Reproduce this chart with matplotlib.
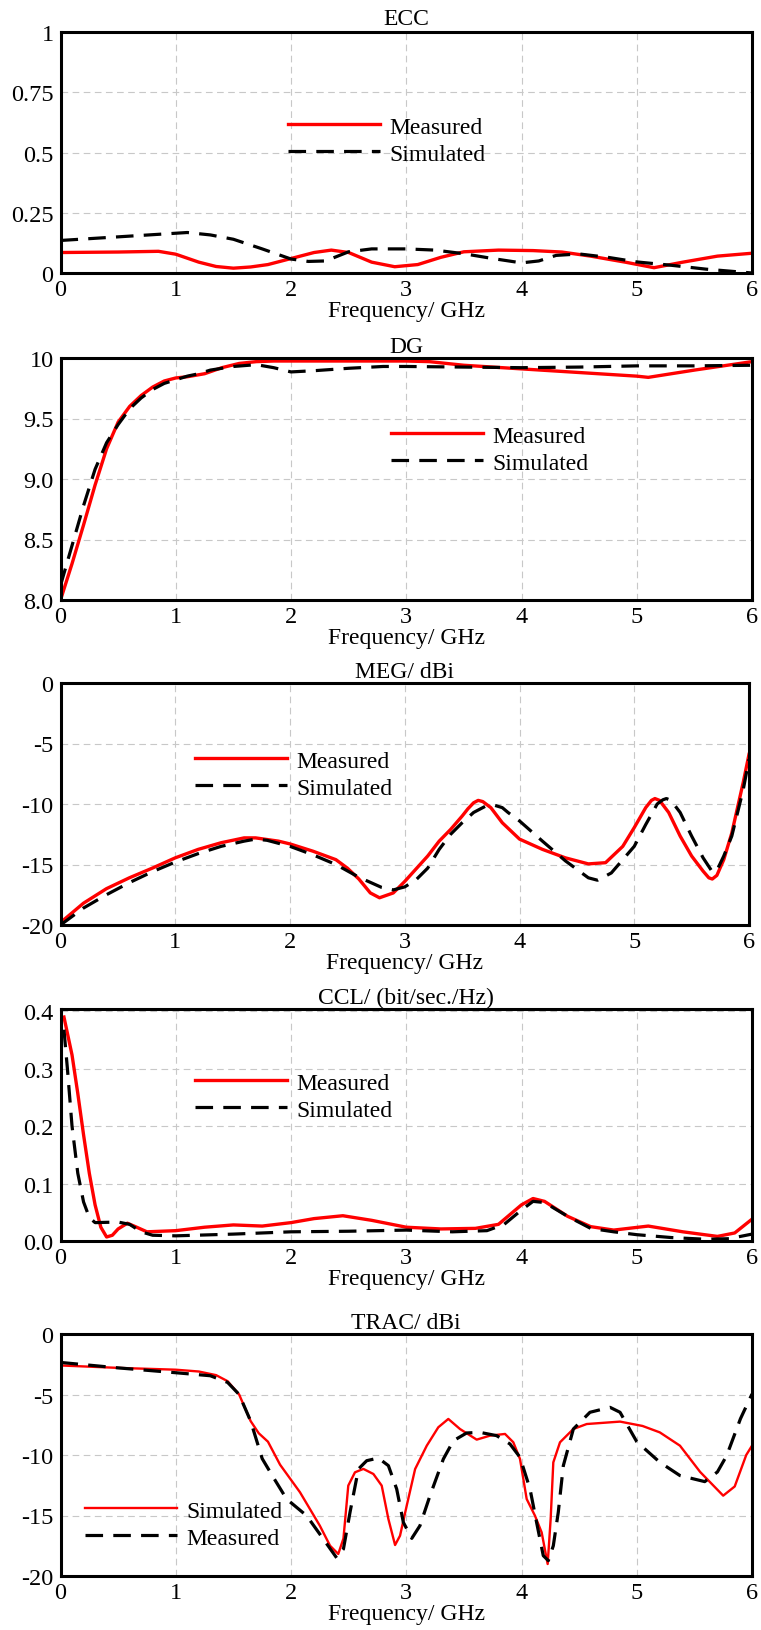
import matplotlib
matplotlib.use("Agg")
import matplotlib.pyplot as plt

plt.rcParams["font.family"] = ["Liberation Serif", "DejaVu Serif"]

W, H = 761, 1631
FS = 17.0
TICK_FS = 17.5

# ---------------- ECC ----------------
ecc_meas_f = [0, 0.5, 0.85, 1.0, 1.2, 1.35, 1.5, 1.65, 1.8, 2.0, 2.2, 2.35, 2.5, 2.7, 2.9, 3.1, 3.3, 3.5,
              3.8, 4.1, 4.35, 4.6, 4.9, 5.15, 5.4, 5.7, 6.0]
ecc_meas = [0.085, 0.087, 0.09, 0.078, 0.045, 0.027, 0.02, 0.025, 0.035, 0.06, 0.085, 0.095, 0.085, 0.045,
            0.026, 0.035, 0.065, 0.088, 0.095, 0.093, 0.087, 0.07, 0.045, 0.022, 0.045, 0.07, 0.082]
ecc_sim_f = [0, 0.5, 1.0, 1.1, 1.3, 1.5, 1.75, 2.0, 2.15, 2.3, 2.5, 2.7, 3.0, 3.25, 3.5, 3.75, 4.0, 4.15,
             4.3, 4.5, 4.75, 5.0, 5.3, 5.6, 5.8, 6.0]
ecc_sim = [0.135, 0.15, 0.165, 0.168, 0.158, 0.14, 0.1, 0.058, 0.048, 0.05, 0.088, 0.1, 0.1, 0.095, 0.08,
           0.06, 0.042, 0.05, 0.073, 0.079, 0.065, 0.046, 0.032, 0.016, 0.008, 0.0]

# ---------------- DG ----------------
dg_meas_f = [0, 0.1, 0.2, 0.3, 0.4, 0.5, 0.6, 0.7, 0.8, 0.9, 1.0, 1.1, 1.25, 1.4, 1.55, 1.7, 1.85, 2.0,
             2.5, 3.0, 3.2, 3.5, 4.0, 4.5, 5.0, 5.1, 5.5, 6.0]
dg_meas = [8.0, 8.3, 8.62, 8.95, 9.25, 9.47, 9.6, 9.69, 9.76, 9.81, 9.835, 9.845, 9.87, 9.92, 9.955, 9.97,
           9.975, 9.975, 9.975, 9.975, 9.97, 9.94, 9.91, 9.88, 9.85, 9.84, 9.9, 9.97]
dg_sim_f = [0, 0.1, 0.2, 0.3, 0.4, 0.5, 0.6, 0.7, 0.8, 0.9, 1.0, 1.1, 1.2, 1.3, 1.5, 1.7, 1.85, 2.0, 2.2,
            2.5, 2.8, 3.0, 3.5, 4.0, 4.5, 5.0, 5.5, 6.0]
dg_sim = [8.12, 8.45, 8.78, 9.08, 9.3, 9.45, 9.58, 9.67, 9.74, 9.79, 9.82, 9.85, 9.87, 9.9, 9.93, 9.945,
          9.92, 9.885, 9.895, 9.915, 9.93, 9.93, 9.925, 9.92, 9.925, 9.935, 9.935, 9.94]

# ---------------- MEG ----------------
meg_meas_f = [0, 0.1, 0.2, 0.4, 0.6, 0.8, 1.0, 1.2, 1.4, 1.6, 1.7, 1.9, 2.0, 2.2, 2.4, 2.5, 2.6, 2.7, 2.78,
              2.9, 3.0, 3.2, 3.3, 3.4, 3.5, 3.55, 3.6, 3.64, 3.68, 3.75, 3.85, 4.0, 4.2, 4.4, 4.6, 4.75,
              4.9, 5.0, 5.1, 5.15, 5.18, 5.22, 5.3, 5.4, 5.5, 5.6, 5.65, 5.68, 5.72, 5.78, 5.85, 5.95, 6.0]
meg_meas = [-19.8, -19.0, -18.2, -17.0, -16.1, -15.3, -14.45, -13.75, -13.2, -12.8, -12.8, -13.07, -13.3,
            -13.9, -14.6, -15.3, -16.2, -17.35, -17.75, -17.35, -16.4, -14.3, -13.07, -12.1, -11.0, -10.4,
            -9.9, -9.7, -9.8, -10.3, -11.55, -12.9, -13.75, -14.45, -14.95, -14.85, -13.5, -11.95, -10.3,
            -9.7, -9.55, -9.7, -10.7, -12.65, -14.3, -15.55, -16.1, -16.2, -15.9, -14.6, -12.4, -8.2, -5.9]
meg_sim_f = [0, 0.1, 0.2, 0.4, 0.6, 0.8, 1.0, 1.2, 1.4, 1.6, 1.7, 1.8, 2.0, 2.2, 2.4, 2.6, 2.8, 2.9, 3.0,
             3.1, 3.2, 3.3, 3.4, 3.5, 3.6, 3.7, 3.78, 3.85, 3.9, 4.0, 4.2, 4.4, 4.6, 4.68, 4.8, 5.0, 5.1,
             5.2, 5.25, 5.28, 5.32, 5.4, 5.5, 5.6, 5.68, 5.72, 5.78, 5.85, 5.95, 6.0]
meg_sim = [-20.0, -19.3, -18.6, -17.5, -16.5, -15.6, -14.8, -14.1, -13.5, -13.07, -12.9, -13.0, -13.5,
           -14.2, -15.0, -16.05, -16.9, -17.1, -16.85, -16.25, -15.3, -13.75, -12.5, -11.55, -10.7, -10.2,
           -10.1, -10.3, -10.7, -11.4, -13.07, -14.7, -16.1, -16.3, -15.7, -13.5, -11.7, -10.0, -9.65,
           -9.55, -9.7, -10.7, -12.65, -14.45, -15.6, -15.5, -14.3, -12.65, -8.8, -6.3]

# ---------------- CCL ----------------
ccl_meas_f = [0.03, 0.1, 0.15, 0.2, 0.25, 0.3, 0.35, 0.4, 0.45, 0.5, 0.58, 0.65, 0.75, 1.0, 1.25, 1.5,
              1.75, 2.0, 2.2, 2.45, 2.7, 3.0, 3.3, 3.6, 3.8, 4.0, 4.1, 4.2, 4.4, 4.6, 4.8, 5.1, 5.4, 5.7,
              5.85, 6.0]
ccl_meas = [0.39, 0.324, 0.257, 0.185, 0.118, 0.063, 0.024, 0.007, 0.01, 0.021, 0.031, 0.025, 0.016,
            0.018, 0.024, 0.028, 0.026, 0.032, 0.039, 0.044, 0.036, 0.024, 0.021, 0.022, 0.029, 0.063,
            0.074, 0.069, 0.043, 0.025, 0.019, 0.026, 0.016, 0.008, 0.014, 0.038]
ccl_sim_f = [0.03, 0.06, 0.1, 0.15, 0.2, 0.25, 0.3, 0.5, 0.6, 0.7, 0.8, 1.0, 1.5, 2.0, 2.5, 3.0, 3.4, 3.7,
             3.85, 4.0, 4.1, 4.2, 4.4, 4.6, 4.8, 5.0, 5.3, 5.6, 5.8, 6.0]
ccl_sim = [0.368, 0.3, 0.2, 0.118, 0.068, 0.041, 0.032, 0.033, 0.029, 0.016, 0.01, 0.009, 0.012, 0.016,
           0.017, 0.019, 0.016, 0.018, 0.029, 0.054, 0.069, 0.067, 0.043, 0.022, 0.016, 0.011, 0.006,
           0.003, 0.004, 0.012]

# ---------------- TRAC ----------------
trac_red_f = [0, 0.5, 1.0, 1.2, 1.35, 1.45, 1.55, 1.65, 1.72, 1.8, 1.905, 2.078, 2.25, 2.339, 2.41, 2.455,
              2.497, 2.555, 2.628, 2.715, 2.787, 2.845, 2.903, 2.946, 3.004, 3.077, 3.178, 3.278, 3.365,
              3.466, 3.611, 3.727, 3.857, 3.929, 3.987, 4.045, 4.117, 4.175, 4.227, 4.253, 4.276, 4.334,
              4.45, 4.566, 4.855, 5.05, 5.2, 5.375, 5.55, 5.75, 5.85, 5.95, 6.0]
trac_red = [-2.6, -2.8, -2.95, -3.1, -3.4, -3.9, -5.0, -7.2, -8.2, -8.9, -10.8, -13.08, -15.84, -17.5,
            -18.18, -16.9, -12.53, -11.43, -11.15, -11.57, -12.53, -15.29, -17.44, -16.67, -14.19, -11.16,
            -9.23, -7.71, -7.02, -7.85, -8.73, -8.4, -8.26, -8.95, -10.33, -13.64, -15.02, -16.4, -19.01,
            -15.29, -10.61, -8.95, -7.85, -7.44, -7.24, -7.6, -8.13, -9.23, -11.4, -13.36, -12.6, -10.0,
            -9.23]
trac_black_f = [0, 0.5, 1.0, 1.3, 1.45, 1.55, 1.65, 1.75, 1.85, 1.962, 2.136, 2.28, 2.396, 2.455, 2.512,
                2.585, 2.657, 2.758, 2.845, 2.917, 2.975, 3.048, 3.119, 3.206, 3.322, 3.409, 3.524, 3.64,
                3.784, 3.9, 3.987, 4.074, 4.131, 4.189, 4.233, 4.276, 4.319, 4.363, 4.45, 4.594, 4.768,
                4.855, 5.0, 5.2, 5.375, 5.59, 5.7, 5.78, 5.9, 6.0]
trac_black = [-2.35, -2.8, -3.2, -3.45, -4.0, -5.0, -7.2, -10.3, -11.9, -13.64, -15.02, -16.94, -18.5,
              -17.77, -14.74, -11.16, -10.47, -10.25, -10.88, -12.81, -15.57, -16.89, -15.84, -13.36,
              -10.33, -8.82, -8.18, -8.13, -8.4, -9.09, -10.19, -12.81, -15.57, -18.32, -18.73, -17.5,
              -14.74, -10.88, -7.85, -6.47, -6.06, -6.47, -8.9, -10.6, -11.7, -12.2, -11.4, -10.06, -7.0,
              -4.96]

freq_ticks = [0, 1, 2, 3, 4, 5, 6]
freq_labels = ["0", "1", "2", "3", "4", "5", "6"]

panels = [
    dict(title="ECC", box=(60.5, 33, 752, 274), ylim=(0, 1),
         yticks=[0, 0.25, 0.5, 0.75, 1], ylabels=["0", "0.25", "0.5", "0.75", "1"],
         red=(ecc_meas_f, ecc_meas, "Measured"), black=(ecc_sim_f, ecc_sim, "Simulated"),
         leg=(288, 117), lw=2.4, tpad=6),
    dict(title="DG", box=(60.5, 359, 752, 601), ylim=(8, 10),
         yticks=[8, 8.5, 9, 9.5, 10], ylabels=["8.0", "8.5", "9.0", "9.5", "10"],
         red=(dg_meas_f, dg_meas, "Measured"), black=(dg_sim_f, dg_sim, "Simulated"),
         leg=(391, 426), lw=2.4, tpad=4),
    dict(title="MEG/ dBi", box=(60.5, 684, 749, 926), ylim=(-20, 0),
         yticks=[-20, -15, -10, -5, 0], ylabels=["-20", "-15", "-10", "-5", "0"],
         red=(meg_meas_f, meg_meas, "Measured"), black=(meg_sim_f, meg_sim, "Simulated"),
         leg=(195, 751), lw=2.4, tpad=4),
    dict(title="CCL/ (bit/sec./Hz)", box=(60.5, 1010, 752, 1242), ylim=(0, 0.404),
         yticks=[0, 0.1, 0.2, 0.3, 0.4], ylabels=["0.0", "0.1", "0.2", "0.3", "0.4"],
         red=(ccl_meas_f, ccl_meas, "Measured"), black=(ccl_sim_f, ccl_sim, "Simulated"),
         leg=(195, 1073), lw=2.4, tpad=4),
    dict(title="TRAC/ dBi", box=(60.5, 1335, 752, 1577), ylim=(-20, 0),
         yticks=[-20, -15, -10, -5, 0], ylabels=["-20", "-15", "-10", "-5", "0"],
         red=(trac_red_f, trac_red, "Simulated"), black=(trac_black_f, trac_black, "Measured"),
         leg=(85, 1501), lw=1.7, tpad=4),
]

fig = plt.figure(figsize=(W / 100, H / 100), dpi=100)

for p in panels:
    l, t, r, b = p["box"]
    ax = fig.add_axes([l / W, 1 - b / H, (r - l) / W, (b - t) / H])
    ax.set_xlim(0, 6)
    ax.set_ylim(*p["ylim"])
    ax.set_xticks(freq_ticks, labels=freq_labels)
    ax.set_yticks(p["yticks"], labels=p["ylabels"])
    ax.tick_params(axis="both", length=0, labelsize=TICK_FS, colors="black")
    ax.tick_params(axis="x", pad=4)
    ax.tick_params(axis="y", pad=5)
    ax.grid(True, color="#c8c8c8", linestyle=(0, (6, 4)), linewidth=0.8)
    for s in ax.spines.values():
        s.set_linewidth(2.2)
        s.set_color("black")
    rf, rv, rl = p["red"]
    bf, bv, bl = p["black"]
    h1, = ax.plot(rf, rv, color="#ff0000", lw=p["lw"], solid_joinstyle="round", label=rl)
    h2, = ax.plot(bf, bv, color="black", lw=2.3, linestyle=(0, (5.5, 3.2)), label=bl)
    lx, ly = p["leg"]
    ax.legend(handles=[h1, h2], loc="upper left", bbox_to_anchor=(lx / W, 1 - ly / H),
              bbox_transform=fig.transFigure, frameon=False, fontsize=FS, handlelength=3.9,
              handletextpad=0.38, labelspacing=0.24, borderpad=0, borderaxespad=0)
    ax.set_title(p["title"], fontsize=FS, pad=p["tpad"])
    ax.set_xlabel("Frequency/ GHz", fontsize=FS, labelpad=0)

fig.savefig("out.png", dpi=100)
